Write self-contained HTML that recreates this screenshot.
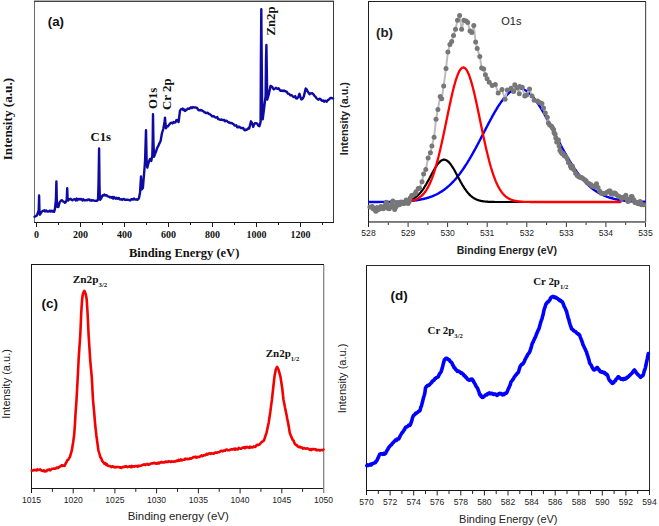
<!DOCTYPE html>
<html><head><meta charset="utf-8"><style>
html,body{margin:0;padding:0;background:#fff;}
svg{display:block;}
</style></head><body>
<svg width="659" height="526" viewBox="0 0 659 526">
<rect width="659" height="526" fill="#fff"/>
<rect x="34" y="0" width="300" height="1" fill="#b0b0b0"/>
<rect x="34" y="1" width="300" height="1" fill="#444"/>
<rect x="34" y="2" width="1" height="221" fill="#6a6a6a"/>
<rect x="333" y="1" width="1" height="222" fill="#3a3a3a"/>
<rect x="34" y="222" width="300" height="1" fill="#1a1a1a"/>
<rect x="36" y="223" width="1" height="4" fill="#1a1a1a"/>
<text x="36.5" y="237.6" font-family='"Liberation Serif", serif' font-size="10" font-weight="bold" text-anchor="middle" fill="#111">0</text>
<rect x="58" y="223" width="1" height="2" fill="#1a1a1a"/>
<rect x="80" y="223" width="1" height="4" fill="#1a1a1a"/>
<text x="80.5" y="237.6" font-family='"Liberation Serif", serif' font-size="10" font-weight="bold" text-anchor="middle" fill="#111">200</text>
<rect x="102" y="223" width="1" height="2" fill="#1a1a1a"/>
<rect x="124" y="223" width="1" height="4" fill="#1a1a1a"/>
<text x="124.5" y="237.6" font-family='"Liberation Serif", serif' font-size="10" font-weight="bold" text-anchor="middle" fill="#111">400</text>
<rect x="146" y="223" width="1" height="2" fill="#1a1a1a"/>
<rect x="168" y="223" width="1" height="4" fill="#1a1a1a"/>
<text x="168.5" y="237.6" font-family='"Liberation Serif", serif' font-size="10" font-weight="bold" text-anchor="middle" fill="#111">600</text>
<rect x="190" y="223" width="1" height="2" fill="#1a1a1a"/>
<rect x="212" y="223" width="1" height="4" fill="#1a1a1a"/>
<text x="212.5" y="237.6" font-family='"Liberation Serif", serif' font-size="10" font-weight="bold" text-anchor="middle" fill="#111">800</text>
<rect x="234" y="223" width="1" height="2" fill="#1a1a1a"/>
<rect x="256" y="223" width="1" height="4" fill="#1a1a1a"/>
<text x="256.5" y="237.6" font-family='"Liberation Serif", serif' font-size="10" font-weight="bold" text-anchor="middle" fill="#111">1000</text>
<rect x="278" y="223" width="1" height="2" fill="#1a1a1a"/>
<rect x="300" y="223" width="1" height="4" fill="#1a1a1a"/>
<text x="300.5" y="237.6" font-family='"Liberation Serif", serif' font-size="10" font-weight="bold" text-anchor="middle" fill="#111">1200</text>
<rect x="322" y="223" width="1" height="2" fill="#1a1a1a"/>
<text x="184.1" y="257.4" font-family='"Liberation Serif", serif' font-size="12.5" font-weight="bold" text-anchor="middle" fill="#111">Binding Energy (eV)</text>
<text x="12.4" y="119.1" font-family='"Liberation Serif", serif' font-size="13.2" font-weight="bold" text-anchor="middle" fill="#111" transform="rotate(-90 12.4 119.1)">Intensity (a.u.)</text>
<text x="47.8" y="25.8" font-family='"Liberation Sans", sans-serif' font-size="13.3" font-weight="bold" text-anchor="start" fill="#111">(a)</text>
<text x="100.8" y="140.9" font-family='"Liberation Serif", serif' font-size="12.8" font-weight="bold" text-anchor="middle" fill="#111">C1s</text>
<text x="156.6" y="98.3" font-family='"Liberation Serif", serif' font-size="12.8" font-weight="bold" text-anchor="middle" fill="#111" transform="rotate(-90 156.6 98.3)">O1s</text>
<text x="170.8" y="94.2" font-family='"Liberation Serif", serif' font-size="12.8" font-weight="bold" text-anchor="middle" fill="#111" transform="rotate(-90 170.8 94.2)">Cr 2p</text>
<text x="274.7" y="21" font-family='"Liberation Serif", serif' font-size="12.8" font-weight="bold" text-anchor="middle" fill="#111" transform="rotate(-90 274.7 21)">Zn2p</text>
<polyline points="34.5,216.8 36,216 37,215.2 37.8,213 38.7,210 39.1,195.5 39.5,213 40,214.7 41,213 41.7,211.8 42.5,211 43.4,210.9 44.3,210.3 45.2,211.4 46.2,210.4 47.1,211.5 48,211.5 48.9,211.3 49.7,210.7 50.6,211.6 51.5,210.7 52.4,211.6 53.2,210.9 54.1,211.8 54.9,209.2 55.9,200 56.4,181.4 56.8,200 57.1,206.6 58.4,207 59.6,202.4 60.9,200.6 62,200.2 63.1,201.5 63.9,201.6 64.8,202.8 65.6,202.4 66.7,200 67.2,188.2 67.6,198 68.2,200.6 69.1,199.2 69.9,199.4 70.7,198.8 71.5,199.7 72.4,200.3 73.2,199.6 74,199.4 74.9,199.2 75.7,200.4 76.6,198.6 77.4,200.2 78.3,199.1 79.1,198.9 80,199.6 80.8,198.9 81.7,199.4 82.5,200.5 83.3,199.3 84.2,200.2 85,200.1 85.8,200.4 86.7,199.9 87.5,200.3 88.3,199.4 89.2,199.5 90,200.4 90.8,199.9 91.6,200.8 92.4,200.4 93.2,200.2 94,200.6 95,200.9 96.1,200.7 97.1,200.9 98,199.7 98.5,185 99.1,148.4 99.5,185 99.8,197 100.2,199.7 101.1,198.6 101.9,196.5 102.8,195.2 103.7,195.5 104.5,194.6 105.5,195.5 106.4,195.1 107.4,196.1 108.2,196.5 109.1,196.6 110,197.5 110.8,197 111.6,197.7 112.4,197 113.2,198.6 114,197 114.8,197.8 115.6,198.7 116.4,197.7 117.2,198.6 118,198.8 118.8,197.9 119.7,199.3 120.5,199.5 121.3,199.2 122.2,199.9 123,199.2 123.9,198.9 124.9,199.8 125.8,199.7 126.7,199.8 127.7,199.6 128.6,199.8 129.4,200.3 130.3,200.4 131.2,199.3 132,199.2 132.9,199.6 133.9,198.5 134.8,199.4 135.6,199.6 136.4,199.3 137.3,199.8 138.1,199.2 138.9,198.4 140,192.7 141,176.5 141.6,189.5 142.9,187.9 144.5,168.5 145.1,160 146,130.3 146.6,160 147.3,167.6 148.3,163.6 149.2,160.8 150,158.9 151.3,160.9 152.3,155.6 152.7,140 153,114.3 153.4,140 154,156.9 155,154 156,151.6 157.3,147.6 158.3,145.9 159.3,143.6 160.6,141 162,133 163.3,129 164.5,122 165,117.6 165.5,124 166,128.3 167,126.3 168,126.3 169,124.9 170,123.6 170.8,122.9 171.7,122.7 172.5,123.4 173.6,122.1 174.6,122.6 175.5,122.3 176.3,120.1 177.2,120 178.6,122 180,110.6 180.9,109.4 181.7,109 182.6,108.6 183.4,110.1 184.2,109.4 185,111 186,110.1 187,109.4 188,108.5 189,108.9 189.9,108.3 190.9,107.3 191.9,108.1 193,107 194,107.5 195,107.5 196,107.5 197,107.9 198,109.5 199,110.4 200,110.3 200.9,110 201.7,110.4 202.6,110.9 203.4,111.3 204.3,112.2 205.2,112.5 206,113.1 206.9,112.8 207.7,112.6 208.6,113.8 209.4,114 210.3,114.6 211.2,115.2 212,116.4 212.9,116.3 213.8,116.3 214.7,117 215.5,117.5 216.4,117.6 217.3,117.1 218.1,119.1 219,119.2 219.9,119.7 220.8,119.9 221.6,119.4 222.5,120 223.4,120.2 224.2,119.9 225.1,121.3 225.9,120.6 226.8,120.9 227.6,121.6 228.5,122.5 229.4,122.3 230.2,123 231.1,122.9 232,123.2 232.9,123.9 233.7,124.3 234.6,125.5 235.5,125.6 236.3,125.3 237.2,127.3 238.1,127.2 239,126.6 239.8,127.1 240.7,128 241.6,128 242.4,128.2 243.3,128 244.1,129.7 245,130.3 245.8,129.5 246.7,129.8 247.5,129.3 248.4,128.1 249.2,128.5 250.3,124 251,121.3 252,123.1 253.2,126.8 254.1,124.2 255.1,123.1 255.9,123.2 256.8,123.4 257.6,124.3 258.5,125.9 259.4,126.2 260.6,121.9 260.9,60 261.3,9.3 261.7,60 262.2,112 262.7,119.4 264.5,105 265.6,95.9 266,60 266.4,45 266.8,70 267.2,99.6 268.7,94.7 270.5,86 271.3,86.2 272.2,86.7 273,88.5 273.9,89.4 274.9,88.6 275.8,87.8 276.7,88.5 277.6,88.9 278.5,88.2 279.4,89.5 280.2,90.7 281.1,90.8 282,90.4 283,91.1 284,90.5 285,91.2 285.9,91.5 286.8,91.7 287.7,93.5 288.6,93.7 289.5,94.2 290.4,95.4 291.2,95.1 292,95.4 292.9,96.6 294,97 295.2,96.1 296.1,98.3 297.1,98.5 298.3,96.9 299.5,93.8 300.4,97.3 301.4,99.5 302.2,99.2 303,98 303.8,96.6 305.7,88.5 306.6,89.4 307.6,91.4 308.6,92.8 309.5,94.2 310.4,93.5 311.4,93.3 312.2,93.1 313,93.8 313.9,95 314.7,96.1 315.6,96.8 316.6,98.5 317.6,99 318.5,99.7 319.4,98.8 320.4,99 321.4,100.3 322.3,100.9 323.3,100.4 324.1,101.7 325,100.8 325.8,100.9 326.6,101.8 327.8,100.1 329,99.5 329.9,98.4 330.9,97.9 331.8,98 333,98.5" fill="none" stroke="#0e0aa4" stroke-width="2.4" stroke-linejoin="round" stroke-linecap="round"/>
<rect x="368" y="1" width="278" height="1" fill="#222"/>
<rect x="368" y="2" width="1" height="225" fill="#1e1e1e"/>
<rect x="645" y="2" width="1" height="220" fill="#555"/>
<rect x="646" y="2" width="1" height="220" fill="#e0e0e0"/>
<rect x="369" y="221" width="277" height="1" fill="#777"/>
<rect x="369" y="222" width="277" height="1" fill="#888"/>
<text x="368.5" y="236" font-family='"Liberation Sans", sans-serif' font-size="8.6" font-weight="normal" text-anchor="middle" fill="#222">528</text>
<line x1="388.3" y1="222.5" x2="388.3" y2="225" stroke="#333" stroke-width="1"/>
<line x1="408.1" y1="222.5" x2="408.1" y2="227" stroke="#333" stroke-width="1"/>
<text x="408.1" y="236" font-family='"Liberation Sans", sans-serif' font-size="8.6" font-weight="normal" text-anchor="middle" fill="#222">529</text>
<line x1="427.9" y1="222.5" x2="427.9" y2="225" stroke="#333" stroke-width="1"/>
<line x1="447.6" y1="222.5" x2="447.6" y2="227" stroke="#333" stroke-width="1"/>
<text x="447.6" y="236" font-family='"Liberation Sans", sans-serif' font-size="8.6" font-weight="normal" text-anchor="middle" fill="#222">530</text>
<line x1="467.4" y1="222.5" x2="467.4" y2="225" stroke="#333" stroke-width="1"/>
<line x1="487.2" y1="222.5" x2="487.2" y2="227" stroke="#333" stroke-width="1"/>
<text x="487.2" y="236" font-family='"Liberation Sans", sans-serif' font-size="8.6" font-weight="normal" text-anchor="middle" fill="#222">531</text>
<line x1="507" y1="222.5" x2="507" y2="225" stroke="#333" stroke-width="1"/>
<line x1="526.8" y1="222.5" x2="526.8" y2="227" stroke="#333" stroke-width="1"/>
<text x="526.8" y="236" font-family='"Liberation Sans", sans-serif' font-size="8.6" font-weight="normal" text-anchor="middle" fill="#222">532</text>
<line x1="546.6" y1="222.5" x2="546.6" y2="225" stroke="#333" stroke-width="1"/>
<line x1="566.4" y1="222.5" x2="566.4" y2="227" stroke="#333" stroke-width="1"/>
<text x="566.4" y="236" font-family='"Liberation Sans", sans-serif' font-size="8.6" font-weight="normal" text-anchor="middle" fill="#222">533</text>
<line x1="586.1" y1="222.5" x2="586.1" y2="225" stroke="#333" stroke-width="1"/>
<line x1="605.9" y1="222.5" x2="605.9" y2="227" stroke="#333" stroke-width="1"/>
<text x="605.9" y="236" font-family='"Liberation Sans", sans-serif' font-size="8.6" font-weight="normal" text-anchor="middle" fill="#222">534</text>
<line x1="625.7" y1="222.5" x2="625.7" y2="225" stroke="#333" stroke-width="1"/>
<line x1="645.5" y1="222.5" x2="645.5" y2="227" stroke="#333" stroke-width="1"/>
<text x="645.5" y="236" font-family='"Liberation Sans", sans-serif' font-size="8.6" font-weight="normal" text-anchor="middle" fill="#222">535</text>
<text x="506.9" y="253.6" font-family='"Liberation Sans", sans-serif' font-size="10.5" font-weight="bold" text-anchor="middle" fill="#222">Binding Energy (eV)</text>
<text x="348" y="118.7" font-family='"Liberation Sans", sans-serif' font-size="10.8" font-weight="bold" text-anchor="middle" fill="#222" transform="rotate(-90 348 118.7)">Intensity (a.u.)</text>
<text x="376" y="36.5" font-family='"Liberation Sans", sans-serif' font-size="13.3" font-weight="bold" text-anchor="start" fill="#222">(b)</text>
<text x="501.3" y="25" font-family='"Liberation Sans", sans-serif' font-size="11" font-weight="normal" text-anchor="start" fill="#222">O1s</text>
<polyline points="369.2,202 369.7,202 370.2,202 370.7,202 371.2,202 371.7,202 372.2,202 372.7,202 373.2,202 373.7,202 374.2,202 374.7,202 375.2,202 375.7,202 376.2,202 376.7,202 377.2,202 377.7,202 378.2,202 378.7,202 379.2,202 379.7,201.9 380.2,201.9 380.7,201.9 381.2,201.9 381.7,201.9 382.2,201.9 382.7,201.9 383.2,201.9 383.7,201.9 384.2,201.9 384.7,201.9 385.2,201.9 385.7,201.9 386.2,201.9 386.7,201.9 387.2,201.9 387.7,201.9 388.2,201.9 388.7,201.9 389.2,201.9 389.7,201.9 390.2,201.8 390.7,201.8 391.2,201.8 391.7,201.8 392.2,201.8 392.7,201.8 393.2,201.8 393.7,201.8 394.2,201.8 394.7,201.8 395.2,201.7 395.7,201.7 396.2,201.7 396.7,201.7 397.2,201.7 397.7,201.7 398.2,201.7 398.7,201.6 399.2,201.6 399.7,201.6 400.2,201.6 400.7,201.6 401.2,201.5 401.7,201.5 402.2,201.5 402.7,201.5 403.2,201.4 403.7,201.4 404.2,201.4 404.7,201.4 405.2,201.3 405.7,201.3 406.2,201.3 406.7,201.2 407.2,201.2 407.7,201.2 408.2,201.1 408.7,201.1 409.2,201.1 409.7,201 410.2,201 410.7,200.9 411.2,200.9 411.7,200.8 412.2,200.8 412.7,200.7 413.2,200.7 413.7,200.6 414.2,200.5 414.7,200.5 415.2,200.4 415.7,200.4 416.2,200.3 416.7,200.2 417.2,200.1 417.7,200.1 418.2,200 418.7,199.9 419.2,199.8 419.7,199.7 420.2,199.6 420.7,199.5 421.2,199.4 421.7,199.3 422.2,199.2 422.7,199.1 423.2,199 423.7,198.9 424.2,198.8 424.7,198.7 425.2,198.5 425.7,198.4 426.2,198.3 426.7,198.1 427.2,198 427.7,197.8 428.2,197.7 428.7,197.5 429.2,197.4 429.7,197.2 430.2,197 430.7,196.9 431.2,196.7 431.7,196.5 432.2,196.3 432.7,196.1 433.2,195.9 433.7,195.7 434.2,195.5 434.7,195.2 435.2,195 435.7,194.8 436.2,194.5 436.7,194.3 437.2,194 437.7,193.8 438.2,193.5 438.7,193.2 439.2,192.9 439.7,192.6 440.2,192.3 440.7,192 441.2,191.7 441.7,191.4 442.2,191.1 442.7,190.7 443.2,190.4 443.7,190 444.2,189.7 444.7,189.3 445.2,188.9 445.7,188.5 446.2,188.1 446.7,187.7 447.2,187.3 447.7,186.9 448.2,186.5 448.7,186 449.2,185.6 449.7,185.1 450.2,184.6 450.7,184.2 451.2,183.7 451.7,183.2 452.2,182.7 452.7,182.2 453.2,181.6 453.7,181.1 454.2,180.5 454.7,180 455.2,179.4 455.7,178.8 456.2,178.3 456.7,177.7 457.2,177.1 457.7,176.4 458.2,175.8 458.7,175.2 459.2,174.5 459.7,173.9 460.2,173.2 460.7,172.5 461.2,171.8 461.7,171.1 462.2,170.4 462.7,169.7 463.2,169 463.7,168.3 464.2,167.5 464.7,166.8 465.2,166 465.7,165.2 466.2,164.4 466.7,163.7 467.2,162.9 467.7,162 468.2,161.2 468.7,160.4 469.2,159.6 469.7,158.7 470.2,157.9 470.7,157 471.2,156.2 471.7,155.3 472.2,154.4 472.7,153.5 473.2,152.6 473.7,151.7 474.2,150.8 474.7,149.9 475.2,149 475.7,148.1 476.2,147.1 476.7,146.2 477.2,145.3 477.7,144.3 478.2,143.4 478.7,142.4 479.2,141.5 479.7,140.5 480.2,139.5 480.7,138.6 481.2,137.6 481.7,136.6 482.2,135.7 482.7,134.7 483.2,133.7 483.7,132.8 484.2,131.8 484.7,130.8 485.2,129.9 485.7,128.9 486.2,127.9 486.7,127 487.2,126 487.7,125.1 488.2,124.1 488.7,123.1 489.2,122.2 489.7,121.3 490.2,120.3 490.7,119.4 491.2,118.5 491.7,117.6 492.2,116.6 492.7,115.7 493.2,114.8 493.7,114 494.2,113.1 494.7,112.2 495.2,111.3 495.7,110.5 496.2,109.7 496.7,108.8 497.2,108 497.7,107.2 498.2,106.4 498.7,105.6 499.2,104.8 499.7,104.1 500.2,103.4 500.7,102.6 501.2,101.9 501.7,101.2 502.2,100.5 502.7,99.9 503.2,99.2 503.7,98.6 504.2,97.9 504.7,97.3 505.2,96.8 505.7,96.2 506.2,95.6 506.7,95.1 507.2,94.6 507.7,94.1 508.2,93.6 508.7,93.2 509.2,92.7 509.7,92.3 510.2,91.9 510.7,91.6 511.2,91.2 511.7,90.9 512.2,90.6 512.7,90.3 513.2,90 513.7,89.8 514.2,89.5 514.7,89.3 515.2,89.1 515.7,89 516.2,88.9 516.7,88.7 517.2,88.6 517.7,88.6 518.2,88.5 518.7,88.5 519.2,88.5 519.7,88.5 520.2,88.6 520.7,88.6 521.2,88.7 521.7,88.8 522.2,89 522.7,89.1 523.2,89.3 523.7,89.5 524.2,89.7 524.7,90 525.2,90.2 525.7,90.5 526.2,90.8 526.7,91.1 527.2,91.5 527.7,91.9 528.2,92.2 528.7,92.7 529.2,93.1 529.7,93.5 530.2,94 530.7,94.5 531.2,95 531.7,95.5 532.2,96.1 532.7,96.6 533.2,97.2 533.7,97.8 534.2,98.4 534.7,99.1 535.2,99.7 535.7,100.4 536.2,101.1 536.7,101.8 537.2,102.5 537.7,103.2 538.2,103.9 538.7,104.7 539.2,105.5 539.7,106.2 540.2,107 540.7,107.8 541.2,108.7 541.7,109.5 542.2,110.3 542.7,111.2 543.2,112 543.7,112.9 544.2,113.8 544.7,114.7 545.2,115.6 545.7,116.5 546.2,117.4 546.7,118.3 547.2,119.2 547.7,120.1 548.2,121.1 548.7,122 549.2,123 549.7,123.9 550.2,124.9 550.7,125.8 551.2,126.8 551.7,127.7 552.2,128.7 552.7,129.7 553.2,130.6 553.7,131.6 554.2,132.6 554.7,133.5 555.2,134.5 555.7,135.5 556.2,136.5 556.7,137.4 557.2,138.4 557.7,139.3 558.2,140.3 558.7,141.3 559.2,142.2 559.7,143.2 560.2,144.1 560.7,145.1 561.2,146 561.7,146.9 562.2,147.9 562.7,148.8 563.2,149.7 563.7,150.6 564.2,151.5 564.7,152.4 565.2,153.3 565.7,154.2 566.2,155.1 566.7,156 567.2,156.8 567.7,157.7 568.2,158.6 568.7,159.4 569.2,160.2 569.7,161.1 570.2,161.9 570.7,162.7 571.2,163.5 571.7,164.3 572.2,165.1 572.7,165.8 573.2,166.6 573.7,167.4 574.2,168.1 574.7,168.9 575.2,169.6 575.7,170.3 576.2,171 576.7,171.7 577.2,172.4 577.7,173.1 578.2,173.7 578.7,174.4 579.2,175.1 579.7,175.7 580.2,176.3 580.7,176.9 581.2,177.5 581.7,178.1 582.2,178.7 582.7,179.3 583.2,179.9 583.7,180.4 584.2,181 584.7,181.5 585.2,182.1 585.7,182.6 586.2,183.1 586.7,183.6 587.2,184.1 587.7,184.6 588.2,185 588.7,185.5 589.2,185.9 589.7,186.4 590.2,186.8 590.7,187.2 591.2,187.7 591.7,188.1 592.2,188.5 592.7,188.8 593.2,189.2 593.7,189.6 594.2,190 594.7,190.3 595.2,190.7 595.7,191 596.2,191.3 596.7,191.7 597.2,192 597.7,192.3 598.2,192.6 598.7,192.9 599.2,193.2 599.7,193.4 600.2,193.7 600.7,194 601.2,194.2 601.7,194.5 602.2,194.7 602.7,195 603.2,195.2 603.7,195.4 604.2,195.6 604.7,195.8 605.2,196 605.7,196.2 606.2,196.4 606.7,196.6 607.2,196.8 607.7,197 608.2,197.2 608.7,197.3 609.2,197.5 609.7,197.7 610.2,197.8 610.7,198 611.2,198.1 611.7,198.2 612.2,198.4 612.7,198.5 613.2,198.6 613.7,198.8 614.2,198.9 614.7,199 615.2,199.1 615.7,199.2 616.2,199.3 616.7,199.4 617.2,199.5 617.7,199.6 618.2,199.7 618.7,199.8 619.2,199.9 619.7,200 620.2,200 620.7,200.1 621.2,200.2 621.7,200.3 622.2,200.3 622.7,200.4 623.2,200.5 623.7,200.5 624.2,200.6 624.7,200.7 625.2,200.7 625.7,200.8 626.2,200.8 626.7,200.9 627.2,200.9 627.7,201 628.2,201 628.7,201 629.2,201.1 629.7,201.1 630.2,201.2 630.7,201.2 631.2,201.2 631.7,201.3 632.2,201.3 632.7,201.3 633.2,201.4 633.7,201.4 634.2,201.4 634.7,201.4 635.2,201.5 635.7,201.5 636.2,201.5 636.7,201.5 637.2,201.6 637.7,201.6 638.2,201.6 638.7,201.6 639.2,201.6 639.7,201.6 640.2,201.7 640.7,201.7 641.2,201.7 641.7,201.7 642.2,201.7 642.7,201.7 643.2,201.8 643.7,201.8 644.2,201.8 644.7,201.8" fill="none" stroke="#0000ff" stroke-width="2.4" stroke-linejoin="round" stroke-linecap="round"/>
<polyline points="410,200.2 410.5,200 411,199.8 411.5,199.6 412,199.4 412.5,199.2 413,198.9 413.5,198.6 414,198.3 414.5,198 415,197.7 415.5,197.4 416,197 416.5,196.6 417,196.2 417.5,195.8 418,195.3 418.5,194.8 419,194.3 419.5,193.8 420,193.2 420.5,192.6 421,192 421.5,191.4 422,190.7 422.5,190 423,189.3 423.5,188.6 424,187.8 424.5,187 425,186.2 425.5,185.4 426,184.6 426.5,183.7 427,182.8 427.5,181.9 428,181 428.5,180.1 429,179.2 429.5,178.2 430,177.3 430.5,176.3 431,175.4 431.5,174.5 432,173.5 432.5,172.6 433,171.7 433.5,170.8 434,169.9 434.5,169 435,168.2 435.5,167.4 436,166.6 436.5,165.8 437,165.1 437.5,164.4 438,163.7 438.5,163.1 439,162.6 439.5,162.1 440,161.6 440.5,161.2 441,160.8 441.5,160.5 442,160.2 442.5,160 443,159.8 443.5,159.7 444,159.7 444.5,159.7 445,159.8 445.5,159.9 446,160.1 446.5,160.4 447,160.7 447.5,161 448,161.4 448.5,161.9 449,162.4 449.5,162.9 450,163.5 450.5,164.1 451,164.8 451.5,165.5 452,166.3 452.5,167 453,167.9 453.5,168.7 454,169.5 454.5,170.4 455,171.3 455.5,172.2 456,173.2 456.5,174.1 457,175 457.5,176 458,176.9 458.5,177.9 459,178.8 459.5,179.7 460,180.6 460.5,181.6 461,182.5 461.5,183.3 462,184.2 462.5,185.1 463,185.9 463.5,186.7 464,187.5 464.5,188.3 465,189 465.5,189.7 466,190.4 466.5,191.1 467,191.8 467.5,192.4 468,193 468.5,193.5 469,194.1 469.5,194.6 470,195.1 470.5,195.6 471,196 471.5,196.4 472,196.8 472.5,197.2 473,197.6 473.5,197.9 474,198.2 474.5,198.5 475,198.8 475.5,199.1 476,199.3 476.5,199.5 477,199.7 477.5,199.9 478,200.1 478.5,200.3 479,200.4 479.5,200.6 480,200.7 480.5,200.8 481,200.9 481.5,201 482,201.1 482.5,201.2 483,201.3 483.5,201.4 484,201.4 484.5,201.5 485,201.5 485.5,201.6 486,201.6 486.5,201.7 487,201.7 487.5,201.7 488,201.8 488.5,201.8 489,201.8 489.5,201.8 490,201.9 490.5,201.9 491,201.9 491.5,201.9 492,201.9 492.5,201.9 493,201.9 493.5,201.9 494,201.9 494.5,202 495,202 495.5,202 496,202 496.5,202 497,202 497.5,202 498,202 498.5,202 499,202 499.5,202 500,202 500.5,202 501,202 501.5,202 502,202 502.5,202 503,202 503.5,202 504,202 504.5,202 505,202 505.5,202 506,202 506.5,202 507,202 507.5,202 508,202 508.5,202 509,202 509.5,202 510,202 510.5,202 511,202 511.5,202 512,202 512.5,202 513,202 513.5,202 514,202 514.5,202 515,202 515.5,202 516,202 516.5,202 517,202 517.5,202 518,202 518.5,202 519,202 519.5,202 520,202 520.5,202 521,202 521.5,202 522,202 522.5,202 523,202 523.5,202 524,202 524.5,202 525,202 525.5,202 526,202 526.5,202 527,202 527.5,202 528,202 528.5,202 529,202 529.5,202 530,202 530.5,202 531,202 531.5,202 532,202 532.5,202 533,202 533.5,202 534,202 534.5,202 535,202 535.5,202 536,202 536.5,202 537,202 537.5,202 538,202 538.5,202 539,202 539.5,202 540,202 540.5,202 541,202 541.5,202 542,202 542.5,202 543,202 543.5,202 544,202 544.5,202 545,202 545.5,202 546,202 546.5,202 547,202 547.5,202 548,202 548.5,202 549,202 549.5,202 550,202 550.5,202 551,202 551.5,202 552,202 552.5,202 553,202 553.5,202 554,202 554.5,202 555,202 555.5,202 556,202 556.5,202 557,202 557.5,202 558,202 558.5,202 559,202 559.5,202 560,202 560.5,202 561,202 561.5,202 562,202 562.5,202 563,202 563.5,202 564,202 564.5,202 565,202 565.5,202 566,202 566.5,202 567,202 567.5,202 568,202 568.5,202 569,202 569.5,202 570,202 570.5,202 571,202 571.5,202 572,202 572.5,202 573,202 573.5,202 574,202 574.5,202 575,202 575.5,202 576,202 576.5,202 577,202 577.5,202 578,202 578.5,202 579,202 579.5,202 580,202 580.5,202 581,202 581.5,202 582,202 582.5,202 583,202 583.5,202 584,202 584.5,202 585,202 585.5,202 586,202 586.5,202 587,202 587.5,202 588,202 588.5,202 589,202 589.5,202 590,202 590.5,202 591,202 591.5,202 592,202 592.5,202 593,202 593.5,202 594,202 594.5,202 595,202 595.5,202 596,202 596.5,202 597,202 597.5,202 598,202 598.5,202 599,202 599.5,202 600,202 600.5,202 601,202 601.5,202 602,202 602.5,202 603,202 603.5,202 604,202 604.5,202 605,202 605.5,202 606,202 606.5,202 607,202 607.5,202 608,202 608.5,202 609,202 609.5,202 610,202 610.5,202 611,202 611.5,202 612,202 612.5,202 613,202 613.5,202 614,202 614.5,202 615,202 615.5,202 616,202 616.5,202 617,202 617.5,202 618,202 618.5,202 619,202 619.5,202 620,202" fill="none" stroke="#000" stroke-width="2.2" stroke-linejoin="round" stroke-linecap="round"/>
<polyline points="410,201.1 410.5,201 411,200.9 411.5,200.8 412,200.7 412.5,200.6 413,200.5 413.5,200.3 414,200.2 414.5,200 415,199.8 415.5,199.7 416,199.4 416.5,199.2 417,199 417.5,198.7 418,198.5 418.5,198.2 419,197.8 419.5,197.5 420,197.1 420.5,196.8 421,196.3 421.5,195.9 422,195.4 422.5,195 423,194.4 423.5,193.9 424,193.3 424.5,192.7 425,192 425.5,191.3 426,190.6 426.5,189.8 427,189 427.5,188.1 428,187.2 428.5,186.3 429,185.3 429.5,184.2 430,183.1 430.5,182 431,180.8 431.5,179.6 432,178.3 432.5,176.9 433,175.6 433.5,174.1 434,172.6 434.5,171.1 435,169.5 435.5,167.8 436,166.1 436.5,164.3 437,162.5 437.5,160.6 438,158.7 438.5,156.8 439,154.7 439.5,152.7 440,150.6 440.5,148.4 441,146.3 441.5,144 442,141.8 442.5,139.5 443,137.2 443.5,134.8 444,132.5 444.5,130.1 445,127.7 445.5,125.3 446,122.8 446.5,120.4 447,118 447.5,115.6 448,113.2 448.5,110.8 449,108.4 449.5,106 450,103.7 450.5,101.4 451,99.1 451.5,96.9 452,94.7 452.5,92.6 453,90.5 453.5,88.5 454,86.6 454.5,84.7 455,83 455.5,81.2 456,79.6 456.5,78.1 457,76.6 457.5,75.3 458,74 458.5,72.9 459,71.8 459.5,70.9 460,70.1 460.5,69.4 461,68.8 461.5,68.3 462,67.9 462.5,67.7 463,67.5 463.5,67.5 464,67.6 464.5,67.8 465,68.2 465.5,68.6 466,69.2 466.5,69.9 467,70.7 467.5,71.6 468,72.7 468.5,73.8 469,75 469.5,76.4 470,77.8 470.5,79.3 471,80.9 471.5,82.6 472,84.4 472.5,86.2 473,88.2 473.5,90.1 474,92.2 474.5,94.3 475,96.5 475.5,98.7 476,100.9 476.5,103.2 477,105.5 477.5,107.9 478,110.3 478.5,112.7 479,115.1 479.5,117.5 480,119.9 480.5,122.4 481,124.8 481.5,127.2 482,129.6 482.5,132 483,134.4 483.5,136.7 484,139 484.5,141.3 485,143.6 485.5,145.8 486,148 486.5,150.2 487,152.3 487.5,154.3 488,156.4 488.5,158.3 489,160.3 489.5,162.1 490,164 490.5,165.7 491,167.5 491.5,169.1 492,170.7 492.5,172.3 493,173.8 493.5,175.3 494,176.7 494.5,178 495,179.3 495.5,180.6 496,181.8 496.5,182.9 497,184 497.5,185.1 498,186.1 498.5,187 499,187.9 499.5,188.8 500,189.6 500.5,190.4 501,191.2 501.5,191.9 502,192.5 502.5,193.2 503,193.8 503.5,194.3 504,194.9 504.5,195.4 505,195.8 505.5,196.3 506,196.7 506.5,197.1 507,197.4 507.5,197.8 508,198.1 508.5,198.4 509,198.7 509.5,198.9 510,199.2 510.5,199.4 511,199.6 511.5,199.8 512,200 512.5,200.2 513,200.3 513.5,200.5 514,200.6 514.5,200.7 515,200.8 515.5,200.9 516,201 516.5,201.1 517,201.2 517.5,201.3 518,201.3 518.5,201.4 519,201.4 519.5,201.5 520,201.5 520.5,201.6 521,201.6 521.5,201.7 522,201.7 522.5,201.7 523,201.8 523.5,201.8 524,201.8 524.5,201.8 525,201.8 525.5,201.9 526,201.9 526.5,201.9 527,201.9 527.5,201.9 528,201.9 528.5,201.9 529,201.9 529.5,201.9 530,201.9 530.5,202 531,202 531.5,202 532,202 532.5,202 533,202 533.5,202 534,202 534.5,202 535,202 535.5,202 536,202 536.5,202 537,202 537.5,202 538,202 538.5,202 539,202 539.5,202 540,202 540.5,202 541,202 541.5,202 542,202 542.5,202 543,202 543.5,202 544,202 544.5,202 545,202 545.5,202 546,202 546.5,202 547,202 547.5,202 548,202 548.5,202 549,202 549.5,202 550,202 550.5,202 551,202 551.5,202 552,202 552.5,202 553,202 553.5,202 554,202 554.5,202 555,202 555.5,202 556,202 556.5,202 557,202 557.5,202 558,202 558.5,202 559,202 559.5,202 560,202 560.5,202 561,202 561.5,202 562,202 562.5,202 563,202 563.5,202 564,202 564.5,202 565,202 565.5,202 566,202 566.5,202 567,202 567.5,202 568,202 568.5,202 569,202 569.5,202 570,202 570.5,202 571,202 571.5,202 572,202 572.5,202 573,202 573.5,202 574,202 574.5,202 575,202 575.5,202 576,202 576.5,202 577,202 577.5,202 578,202 578.5,202 579,202 579.5,202 580,202 580.5,202 581,202 581.5,202 582,202 582.5,202 583,202 583.5,202 584,202 584.5,202 585,202 585.5,202 586,202 586.5,202 587,202 587.5,202 588,202 588.5,202 589,202 589.5,202 590,202 590.5,202 591,202 591.5,202 592,202 592.5,202 593,202 593.5,202 594,202 594.5,202 595,202 595.5,202 596,202 596.5,202 597,202 597.5,202 598,202 598.5,202 599,202 599.5,202 600,202 600.5,202 601,202 601.5,202 602,202 602.5,202 603,202 603.5,202 604,202 604.5,202 605,202 605.5,202 606,202 606.5,202 607,202 607.5,202 608,202 608.5,202 609,202 609.5,202 610,202 610.5,202 611,202 611.5,202 612,202 612.5,202 613,202 613.5,202 614,202 614.5,202 615,202 615.5,202 616,202 616.5,202 617,202 617.5,202 618,202 618.5,202 619,202 619.5,202 620,202 620.5,202" fill="none" stroke="#ff0000" stroke-width="2.3" stroke-linejoin="round" stroke-linecap="round"/>
<polyline points="369.9,207 372.3,206.4 373.5,208.5 375.9,211.3 377.1,207.6 378.5,209.5 380.8,206.4 383.2,208.8 384.4,206.4 386.2,202.2 387.5,206 389.3,208.8 391.7,206.4 392.9,201 394.7,209.4 397.2,202.8 398.5,205 400.2,204 402.3,202.2 404,203.5 406.1,199.9 408.1,203.4 409.1,201.4 411.7,195.5 412.9,195.3 415.2,193.8 416,191.8 418.2,188.5 419.6,188.2 422,181.7 423.6,174.1 425.8,169.5 428.1,158.1 430.4,152.8 431.9,146 434.1,137.3 436,119.3 437.9,109.4 440.2,96.5 441.7,98.8 443.7,85.9 446,68.4 447.9,52.1 449.9,44.5 451.7,41.5 453.5,35.4 455.5,29.3 457.5,20.2 459.6,15.6 461.6,29.3 463.9,20.2 466.2,21 467.7,22.5 470,30.9 471.8,32.4 473.8,25.5 475.6,42 477.2,48.5 479.8,56.5 481.6,68 483.7,69 485.4,74.8 487.1,78.8 489.2,82.2 492.2,85.6 495.3,84.4 498.2,93 502,89.5 505.1,99.3 507.3,89.9 511.1,88.2 513.6,91.6 514.8,84.8 517,88 519.3,93.7 519.6,86.5 522.2,87.3 524.8,95.9 526.5,95 529.5,89 532,96 534.2,100.2 537.6,101 539.5,102.5 541.9,103.6 543.5,108 545.3,113 547.3,117.3 548.4,123.1 551.5,126.3 553.6,129.4 555.1,134.2 556.7,142 558.4,139.9 559.9,150.3 562,153.5 564.1,155.6 567.2,158.7 570.3,165 571.4,168.1 572.4,166 575.6,173.3 578.7,176.5 580.8,177.5 582.9,178.6 586,180.7 589.2,183.8 592.3,185.9 595.4,186.9 596.5,183.8 599.6,191.1 602.8,193.2 606.9,192.2 610.1,191.1 612.2,194.3 615.3,193.2 618.5,196.4 621.6,198.5 625.8,195.3 627.9,201.6 630,199 632,196.4 634.1,200.5 636.2,202.6 638.3,203.7 640,201.5 641.5,204.7 643.6,204.7" fill="none" stroke="#bcbcbc" stroke-width="2.0" stroke-linejoin="round" stroke-linecap="round"/>
<circle cx="369.9" cy="207" r="2.5" fill="#777"/>
<circle cx="372.3" cy="206.4" r="2.5" fill="#777"/>
<circle cx="373.5" cy="208.5" r="2.5" fill="#777"/>
<circle cx="375.9" cy="211.3" r="2.5" fill="#777"/>
<circle cx="377.1" cy="207.6" r="2.5" fill="#777"/>
<circle cx="378.5" cy="209.5" r="2.5" fill="#777"/>
<circle cx="380.8" cy="206.4" r="2.5" fill="#777"/>
<circle cx="383.2" cy="208.8" r="2.5" fill="#777"/>
<circle cx="384.4" cy="206.4" r="2.5" fill="#777"/>
<circle cx="386.2" cy="202.2" r="2.5" fill="#777"/>
<circle cx="387.5" cy="206" r="2.5" fill="#777"/>
<circle cx="389.3" cy="208.8" r="2.5" fill="#777"/>
<circle cx="391.7" cy="206.4" r="2.5" fill="#777"/>
<circle cx="392.9" cy="201" r="2.5" fill="#777"/>
<circle cx="394.7" cy="209.4" r="2.5" fill="#777"/>
<circle cx="397.2" cy="202.8" r="2.5" fill="#777"/>
<circle cx="398.5" cy="205" r="2.5" fill="#777"/>
<circle cx="400.2" cy="204" r="2.5" fill="#777"/>
<circle cx="402.3" cy="202.2" r="2.5" fill="#777"/>
<circle cx="404" cy="203.5" r="2.5" fill="#777"/>
<circle cx="406.1" cy="199.9" r="2.5" fill="#777"/>
<circle cx="408.1" cy="203.4" r="2.5" fill="#777"/>
<circle cx="409.1" cy="201.4" r="2.5" fill="#777"/>
<circle cx="411.7" cy="195.5" r="2.5" fill="#777"/>
<circle cx="412.9" cy="195.3" r="2.5" fill="#777"/>
<circle cx="415.2" cy="193.8" r="2.5" fill="#777"/>
<circle cx="416" cy="191.8" r="2.5" fill="#777"/>
<circle cx="418.2" cy="188.5" r="2.5" fill="#777"/>
<circle cx="419.6" cy="188.2" r="2.5" fill="#777"/>
<circle cx="422" cy="181.7" r="2.5" fill="#777"/>
<circle cx="423.6" cy="174.1" r="2.5" fill="#777"/>
<circle cx="425.8" cy="169.5" r="2.5" fill="#777"/>
<circle cx="428.1" cy="158.1" r="2.5" fill="#777"/>
<circle cx="430.4" cy="152.8" r="2.5" fill="#777"/>
<circle cx="431.9" cy="146" r="2.5" fill="#777"/>
<circle cx="434.1" cy="137.3" r="2.5" fill="#777"/>
<circle cx="436" cy="119.3" r="2.5" fill="#777"/>
<circle cx="437.9" cy="109.4" r="2.5" fill="#777"/>
<circle cx="440.2" cy="96.5" r="2.5" fill="#777"/>
<circle cx="441.7" cy="98.8" r="2.5" fill="#777"/>
<circle cx="443.7" cy="85.9" r="2.5" fill="#777"/>
<circle cx="446" cy="68.4" r="2.5" fill="#777"/>
<circle cx="447.9" cy="52.1" r="2.5" fill="#777"/>
<circle cx="449.9" cy="44.5" r="2.5" fill="#777"/>
<circle cx="451.7" cy="41.5" r="2.5" fill="#777"/>
<circle cx="453.5" cy="35.4" r="2.5" fill="#777"/>
<circle cx="455.5" cy="29.3" r="2.5" fill="#777"/>
<circle cx="457.5" cy="20.2" r="2.5" fill="#777"/>
<circle cx="459.6" cy="15.6" r="2.5" fill="#777"/>
<circle cx="461.6" cy="29.3" r="2.5" fill="#777"/>
<circle cx="463.9" cy="20.2" r="2.5" fill="#777"/>
<circle cx="466.2" cy="21" r="2.5" fill="#777"/>
<circle cx="467.7" cy="22.5" r="2.5" fill="#777"/>
<circle cx="470" cy="30.9" r="2.5" fill="#777"/>
<circle cx="471.8" cy="32.4" r="2.5" fill="#777"/>
<circle cx="473.8" cy="25.5" r="2.5" fill="#777"/>
<circle cx="475.6" cy="42" r="2.5" fill="#777"/>
<circle cx="477.2" cy="48.5" r="2.5" fill="#777"/>
<circle cx="479.8" cy="56.5" r="2.5" fill="#777"/>
<circle cx="481.6" cy="68" r="2.5" fill="#777"/>
<circle cx="483.7" cy="69" r="2.5" fill="#777"/>
<circle cx="485.4" cy="74.8" r="2.5" fill="#777"/>
<circle cx="487.1" cy="78.8" r="2.5" fill="#777"/>
<circle cx="489.2" cy="82.2" r="2.5" fill="#777"/>
<circle cx="492.2" cy="85.6" r="2.5" fill="#777"/>
<circle cx="495.3" cy="84.4" r="2.5" fill="#777"/>
<circle cx="498.2" cy="93" r="2.5" fill="#777"/>
<circle cx="502" cy="89.5" r="2.5" fill="#777"/>
<circle cx="505.1" cy="99.3" r="2.5" fill="#777"/>
<circle cx="507.3" cy="89.9" r="2.5" fill="#777"/>
<circle cx="511.1" cy="88.2" r="2.5" fill="#777"/>
<circle cx="513.6" cy="91.6" r="2.5" fill="#777"/>
<circle cx="514.8" cy="84.8" r="2.5" fill="#777"/>
<circle cx="517" cy="88" r="2.5" fill="#777"/>
<circle cx="519.3" cy="93.7" r="2.5" fill="#777"/>
<circle cx="519.6" cy="86.5" r="2.5" fill="#777"/>
<circle cx="522.2" cy="87.3" r="2.5" fill="#777"/>
<circle cx="524.8" cy="95.9" r="2.5" fill="#777"/>
<circle cx="526.5" cy="95" r="2.5" fill="#777"/>
<circle cx="529.5" cy="89" r="2.5" fill="#777"/>
<circle cx="532" cy="96" r="2.5" fill="#777"/>
<circle cx="534.2" cy="100.2" r="2.5" fill="#777"/>
<circle cx="537.6" cy="101" r="2.5" fill="#777"/>
<circle cx="539.5" cy="102.5" r="2.5" fill="#777"/>
<circle cx="541.9" cy="103.6" r="2.5" fill="#777"/>
<circle cx="543.5" cy="108" r="2.5" fill="#777"/>
<circle cx="545.3" cy="113" r="2.5" fill="#777"/>
<circle cx="547.3" cy="117.3" r="2.5" fill="#777"/>
<circle cx="548.4" cy="123.1" r="2.5" fill="#777"/>
<circle cx="551.5" cy="126.3" r="2.5" fill="#777"/>
<circle cx="553.6" cy="129.4" r="2.5" fill="#777"/>
<circle cx="555.1" cy="134.2" r="2.5" fill="#777"/>
<circle cx="556.7" cy="142" r="2.5" fill="#777"/>
<circle cx="558.4" cy="139.9" r="2.5" fill="#777"/>
<circle cx="559.9" cy="150.3" r="2.5" fill="#777"/>
<circle cx="562" cy="153.5" r="2.5" fill="#777"/>
<circle cx="564.1" cy="155.6" r="2.5" fill="#777"/>
<circle cx="567.2" cy="158.7" r="2.5" fill="#777"/>
<circle cx="570.3" cy="165" r="2.5" fill="#777"/>
<circle cx="571.4" cy="168.1" r="2.5" fill="#777"/>
<circle cx="572.4" cy="166" r="2.5" fill="#777"/>
<circle cx="575.6" cy="173.3" r="2.5" fill="#777"/>
<circle cx="578.7" cy="176.5" r="2.5" fill="#777"/>
<circle cx="580.8" cy="177.5" r="2.5" fill="#777"/>
<circle cx="582.9" cy="178.6" r="2.5" fill="#777"/>
<circle cx="586" cy="180.7" r="2.5" fill="#777"/>
<circle cx="589.2" cy="183.8" r="2.5" fill="#777"/>
<circle cx="592.3" cy="185.9" r="2.5" fill="#777"/>
<circle cx="595.4" cy="186.9" r="2.5" fill="#777"/>
<circle cx="596.5" cy="183.8" r="2.5" fill="#777"/>
<circle cx="599.6" cy="191.1" r="2.5" fill="#777"/>
<circle cx="602.8" cy="193.2" r="2.5" fill="#777"/>
<circle cx="606.9" cy="192.2" r="2.5" fill="#777"/>
<circle cx="610.1" cy="191.1" r="2.5" fill="#777"/>
<circle cx="612.2" cy="194.3" r="2.5" fill="#777"/>
<circle cx="615.3" cy="193.2" r="2.5" fill="#777"/>
<circle cx="618.5" cy="196.4" r="2.5" fill="#777"/>
<circle cx="621.6" cy="198.5" r="2.5" fill="#777"/>
<circle cx="625.8" cy="195.3" r="2.5" fill="#777"/>
<circle cx="627.9" cy="201.6" r="2.5" fill="#777"/>
<circle cx="630" cy="199" r="2.5" fill="#777"/>
<circle cx="632" cy="196.4" r="2.5" fill="#777"/>
<circle cx="634.1" cy="200.5" r="2.5" fill="#777"/>
<circle cx="636.2" cy="202.6" r="2.5" fill="#777"/>
<circle cx="638.3" cy="203.7" r="2.5" fill="#777"/>
<circle cx="640" cy="201.5" r="2.5" fill="#777"/>
<circle cx="641.5" cy="204.7" r="2.5" fill="#777"/>
<circle cx="643.6" cy="204.7" r="2.5" fill="#777"/>
<circle cx="373" cy="208.4" r="2.5" fill="#777"/>
<circle cx="375" cy="209.9" r="2.5" fill="#777"/>
<circle cx="376.6" cy="210.2" r="2.5" fill="#777"/>
<circle cx="377.5" cy="208.9" r="2.5" fill="#777"/>
<circle cx="380" cy="208.6" r="2.5" fill="#777"/>
<circle cx="382.2" cy="207.5" r="2.5" fill="#777"/>
<circle cx="383.5" cy="208.3" r="2.5" fill="#777"/>
<circle cx="385.2" cy="205" r="2.5" fill="#777"/>
<circle cx="387.2" cy="203.9" r="2.5" fill="#777"/>
<circle cx="388.3" cy="208.5" r="2.5" fill="#777"/>
<circle cx="390.7" cy="206.8" r="2.5" fill="#777"/>
<circle cx="392" cy="202.9" r="2.5" fill="#777"/>
<circle cx="394.1" cy="205.9" r="2.5" fill="#777"/>
<circle cx="395.7" cy="206.9" r="2.5" fill="#777"/>
<circle cx="398.2" cy="204.3" r="2.5" fill="#777"/>
<circle cx="399.2" cy="204.6" r="2.5" fill="#777"/>
<circle cx="401" cy="201.9" r="2.5" fill="#777"/>
<circle cx="403.5" cy="203.2" r="2.5" fill="#777"/>
<circle cx="405.1" cy="202.7" r="2.5" fill="#777"/>
<circle cx="407" cy="202.5" r="2.5" fill="#777"/>
<circle cx="408.9" cy="201.7" r="2.5" fill="#777"/>
<circle cx="410.2" cy="198" r="2.5" fill="#777"/>
<circle cx="549.7" cy="124.9" r="2.5" fill="#777"/>
<circle cx="552.4" cy="127.7" r="2.5" fill="#777"/>
<circle cx="554.1" cy="132.8" r="2.5" fill="#777"/>
<circle cx="555.8" cy="138" r="2.5" fill="#777"/>
<circle cx="557.6" cy="141.9" r="2.5" fill="#777"/>
<circle cx="559.1" cy="146.1" r="2.5" fill="#777"/>
<circle cx="561" cy="152" r="2.5" fill="#777"/>
<circle cx="563.1" cy="153.4" r="2.5" fill="#777"/>
<circle cx="565.6" cy="156.4" r="2.5" fill="#777"/>
<circle cx="568.4" cy="162.6" r="2.5" fill="#777"/>
<circle cx="570.6" cy="166.5" r="2.5" fill="#777"/>
<circle cx="572.1" cy="167.2" r="2.5" fill="#777"/>
<circle cx="573.9" cy="169.7" r="2.5" fill="#777"/>
<circle cx="577.2" cy="175.6" r="2.5" fill="#777"/>
<circle cx="579.4" cy="177.1" r="2.5" fill="#777"/>
<circle cx="581.6" cy="177.5" r="2.5" fill="#777"/>
<circle cx="584.7" cy="179.7" r="2.5" fill="#777"/>
<circle cx="587.6" cy="182.9" r="2.5" fill="#777"/>
<circle cx="591.1" cy="184.7" r="2.5" fill="#777"/>
<circle cx="593.9" cy="186.4" r="2.5" fill="#777"/>
<circle cx="596" cy="185.8" r="2.5" fill="#777"/>
<circle cx="598" cy="187.5" r="2.5" fill="#777"/>
<circle cx="601.2" cy="193.2" r="2.5" fill="#777"/>
<circle cx="605" cy="193.6" r="2.5" fill="#777"/>
<circle cx="608.9" cy="191.1" r="2.5" fill="#777"/>
<circle cx="611.2" cy="193.8" r="2.5" fill="#777"/>
<circle cx="614" cy="192.9" r="2.5" fill="#777"/>
<circle cx="616.6" cy="194.7" r="2.5" fill="#777"/>
<circle cx="619.7" cy="196.8" r="2.5" fill="#777"/>
<circle cx="623.4" cy="197.3" r="2.5" fill="#777"/>
<circle cx="627.1" cy="199.4" r="2.5" fill="#777"/>
<circle cx="628.7" cy="200.8" r="2.5" fill="#777"/>
<circle cx="631.1" cy="196.8" r="2.5" fill="#777"/>
<circle cx="633.4" cy="199.6" r="2.5" fill="#777"/>
<circle cx="634.9" cy="202.6" r="2.5" fill="#777"/>
<circle cx="637.2" cy="203.1" r="2.5" fill="#777"/>
<circle cx="639.5" cy="203.4" r="2.5" fill="#777"/>
<circle cx="640.5" cy="202.9" r="2.5" fill="#777"/>
<rect x="31" y="264" width="293" height="1" fill="#151515"/>
<rect x="31" y="265" width="1" height="228" fill="#151515"/>
<rect x="323" y="265" width="1" height="228" fill="#8a8a8a"/>
<rect x="324" y="265" width="1" height="228" fill="#d5d5d5"/>
<rect x="32" y="488" width="291" height="1" fill="#1a1a1a"/>
<text x="31.5" y="502.8" font-family='"Liberation Sans", sans-serif' font-size="8.6" font-weight="normal" text-anchor="middle" fill="#222">1015</text>
<line x1="52.4" y1="489" x2="52.4" y2="491.8" stroke="#222" stroke-width="1"/>
<line x1="73.2" y1="489" x2="73.2" y2="493.4" stroke="#222" stroke-width="1"/>
<text x="73.2" y="502.8" font-family='"Liberation Sans", sans-serif' font-size="8.6" font-weight="normal" text-anchor="middle" fill="#222">1020</text>
<line x1="94.1" y1="489" x2="94.1" y2="491.8" stroke="#222" stroke-width="1"/>
<line x1="114.9" y1="489" x2="114.9" y2="493.4" stroke="#222" stroke-width="1"/>
<text x="114.9" y="502.8" font-family='"Liberation Sans", sans-serif' font-size="8.6" font-weight="normal" text-anchor="middle" fill="#222">1025</text>
<line x1="135.8" y1="489" x2="135.8" y2="491.8" stroke="#222" stroke-width="1"/>
<line x1="156.6" y1="489" x2="156.6" y2="493.4" stroke="#222" stroke-width="1"/>
<text x="156.6" y="502.8" font-family='"Liberation Sans", sans-serif' font-size="8.6" font-weight="normal" text-anchor="middle" fill="#222">1030</text>
<line x1="177.5" y1="489" x2="177.5" y2="491.8" stroke="#222" stroke-width="1"/>
<line x1="198.4" y1="489" x2="198.4" y2="493.4" stroke="#222" stroke-width="1"/>
<text x="198.4" y="502.8" font-family='"Liberation Sans", sans-serif' font-size="8.6" font-weight="normal" text-anchor="middle" fill="#222">1035</text>
<line x1="219.2" y1="489" x2="219.2" y2="491.8" stroke="#222" stroke-width="1"/>
<line x1="240.1" y1="489" x2="240.1" y2="493.4" stroke="#222" stroke-width="1"/>
<text x="240.1" y="502.8" font-family='"Liberation Sans", sans-serif' font-size="8.6" font-weight="normal" text-anchor="middle" fill="#222">1040</text>
<line x1="260.9" y1="489" x2="260.9" y2="491.8" stroke="#222" stroke-width="1"/>
<line x1="281.8" y1="489" x2="281.8" y2="493.4" stroke="#222" stroke-width="1"/>
<text x="281.8" y="502.8" font-family='"Liberation Sans", sans-serif' font-size="8.6" font-weight="normal" text-anchor="middle" fill="#222">1045</text>
<line x1="302.6" y1="489" x2="302.6" y2="491.8" stroke="#222" stroke-width="1"/>
<text x="323.5" y="502.8" font-family='"Liberation Sans", sans-serif' font-size="8.6" font-weight="normal" text-anchor="middle" fill="#222">1050</text>
<text x="178.2" y="520" font-family='"Liberation Sans", sans-serif' font-size="11.45" font-weight="normal" text-anchor="middle" fill="#222">Binding energy (eV)</text>
<text x="10.4" y="384" font-family='"Liberation Sans", sans-serif' font-size="11" font-weight="normal" text-anchor="middle" fill="#222" transform="rotate(-90 10.4 384)">Intensity (a.u.)</text>
<text x="41.6" y="308" font-family='"Liberation Sans", sans-serif' font-size="13.5" font-weight="bold" text-anchor="start" fill="#111">(c)</text>
<text x="72.8" y="283.2" font-family='"Liberation Serif", serif' font-size="11.3" font-weight="bold" text-anchor="start" fill="#111">Zn2p<tspan font-size="6.8" dy="4">3/2</tspan></text>
<text x="265.7" y="357.4" font-family='"Liberation Serif", serif' font-size="11.0" font-weight="bold" text-anchor="start" fill="#111">Zn2p<tspan font-size="6.6" dy="4">1/2</tspan></text>
<polyline points="31.8,470.6 32.6,470.5 33.4,470.2 34.2,469.9 35,470.3 35.7,470 36.5,470.4 37.2,469.4 37.9,470 38.7,469.8 39.4,469.8 40.2,469.4 40.9,470 41.7,470.7 42.4,470.8 43.2,471 44,470.3 44.7,471.5 45.5,471.1 46.2,471.3 47,470.5 47.8,469.8 48.5,469.9 49.3,469.4 50,470.3 50.8,469.8 51.6,469.2 52.4,468.7 53.2,468.8 54,468.6 54.9,468.8 55.9,468.3 56.8,467.5 58,468.1 58.9,467.2 59.7,466.5 60.6,466.4 61.8,465.2 62.5,465.9 63.2,465.5 64,465.9 64.7,465.7 65.7,463.2 66.6,461.9 67.4,460.1 68.2,459.8 69.1,458.2 69.9,457.1 70.8,453.8 71.8,450.5 72.5,446.2 73.2,441.9 74.2,434.3 74.9,425 75.5,414 76.5,400 77.6,380 78.6,360 79.4,347.5 80.3,335 81.2,313.5 82.1,299.3 83,293.5 84.3,290.8 85.6,293.5 86.7,299.3 87.6,313.5 88.6,335 89.4,347.5 90.2,360 91,368.8 91.8,377.5 93,400 94.3,414 95.2,425 96.4,435.7 97.4,443 98.4,450.3 99.5,454 100.5,457.6 101.3,458.3 102.1,460.8 102.9,461.7 103.7,462.8 104.4,463.7 105.2,463.1 105.9,464.7 106.7,464 107.4,465.6 108.2,465.5 108.9,466 109.7,466 110.5,466.4 111.3,467.2 112.1,466.4 112.8,466.4 113.6,467.2 114.4,466.9 115.2,467.5 116,467 116.8,467.1 117.6,466.9 118.4,467.1 119.2,467.3 120,467.6 120.7,467.3 121.5,467.8 122.2,467.1 122.9,467.3 123.6,466.8 124.4,466.9 125.1,466.4 125.8,466.7 126.5,466.3 127.3,467.2 128,466.8 128.7,466.8 129.4,466.2 130.2,466.6 130.9,467.1 131.6,465.9 132.3,466.9 133.1,466.3 133.8,466.3 134.5,466.7 135.2,466 136,466.1 136.7,466.3 137.4,466.6 138.1,465.7 138.9,466.3 139.6,466.1 140.3,465.7 141,465.8 141.7,465.3 142.5,465.1 143.2,464.6 143.9,464.6 144.6,464.4 145.4,465.2 146.1,464.4 146.8,464.1 147.5,463.9 148.3,464.8 149,464.7 149.7,464.3 150.4,463.7 151.2,463.5 151.9,463.4 152.6,463.5 153.3,463 154.1,463.3 154.8,462.9 155.5,463.1 156.2,463.7 156.9,463.6 157.7,463 158.4,462.5 159.1,463.5 159.8,462.5 160.6,462.5 161.3,461.9 162,462.4 162.7,462.5 163.5,462.5 164.2,462 164.9,462.4 165.6,461.6 166.4,461.9 167.1,461.6 167.8,462 168.5,461.4 169.3,461.3 170,461.7 170.7,461.9 171.4,461.4 172.1,461.8 172.9,461.5 173.6,461.7 174.3,461.5 175,461.4 175.8,461.5 176.5,460.7 177.2,460.5 177.9,461.2 178.7,459.9 179.4,460.6 180.1,460.4 180.8,459.4 181.6,460.4 182.3,460.3 183,459.8 183.7,459.8 184.5,459.8 185.2,458.7 185.9,459.1 186.6,459 187.3,458.8 188,459.2 188.7,459 189.4,458.9 190.1,458.4 190.8,458.7 191.5,458.3 192.2,458.2 192.9,457.4 193.7,457 194.4,457 195.1,457.2 195.8,456.7 196.5,457.6 197.2,457.1 197.9,457.1 198.6,456.9 199.3,456.9 200,456.5 200.8,456.2 201.5,455.3 202.3,456.2 203.1,455.9 203.8,455.3 204.6,455.1 205.3,455.1 206.1,454.6 206.8,453.8 207.6,454.6 208.3,453.8 209.1,453.4 209.8,453.5 210.6,454 211.3,453.1 212.1,453.4 212.9,453.6 213.6,453.8 214.4,452.9 215.1,452.6 215.9,452.6 216.7,452.8 217.4,452.7 218.2,452.2 219,452.2 219.7,452 220.5,451 221.2,450.9 222,450.9 222.8,451.3 223.5,450.5 224.3,450.6 225.1,450.6 225.8,449.7 226.6,449.6 227.3,449.8 228.1,450.3 228.8,450.2 229.6,450.1 230.3,449.7 231.1,449.3 231.8,449.5 232.6,449.4 233.4,449.3 234.1,448.7 234.9,449.7 235.6,448.6 236.4,448.9 237.2,449.4 237.9,449.3 238.7,447.8 239.4,448.3 240.2,448.7 241,448.8 241.7,448 242.5,447.9 243.2,447.5 244,447.3 244.8,448.3 245.5,447.2 246.2,447.6 247,446.9 247.8,447.4 248.5,447.3 249.3,447.9 250,446.6 250.8,447.5 251.6,447 252.3,447.5 253.1,447.1 253.8,446.4 254.6,446.7 255.3,446.9 256,446.1 256.7,445.1 257.5,444.7 258.2,445.1 258.9,444.7 259.6,444.5 260.4,443.5 261.1,442.5 261.9,442 262.6,441.2 263.4,441.2 264.1,440 264.9,437.7 265.6,435.4 266.4,433.1 267.2,429.7 267.9,426.2 268.7,422.8 269.5,417.1 270.4,411.4 271.1,405.7 271.9,400 273.2,388 274.5,376.4 275.8,369.5 277.1,366.8 278.5,369.5 279.4,372.9 280.4,376.4 281.3,382.2 282.2,388 283.5,400 284.3,403.8 285,407.6 285.8,411.4 286.6,415.2 287.3,419 288.1,422.8 289,428 289.8,433.1 290.5,434.8 291.2,436.6 292,438.3 292.7,440 293.6,440.6 294.4,442.9 295.2,444.3 296.1,445.1 296.9,445 297.6,446.5 298.4,446.5 299.2,447.2 299.9,446.7 300.7,447.4 301.4,447.4 302.1,447.6 302.9,448.6 303.6,448.3 304.3,448.1 305,448.5 305.8,448.6 306.7,448.5 307.5,448.4 308.4,448.7 309.2,449.4 309.9,449.9 310.6,449.1 311.4,450 312.1,449 312.8,449.1 313.6,449.4 314.3,449 315,449.4 315.8,449.3 316.5,450.2 317.3,450.1 318,450.1 318.8,449.9 319.5,450.4 320.3,450.5 321,450 321.8,450 322.6,450.1 323.5,449.5" fill="none" stroke="#f40000" stroke-width="2.6" stroke-linejoin="round" stroke-linecap="round"/>
<rect x="366" y="265" width="284" height="1" fill="#2a2a2a"/>
<rect x="366" y="266" width="1" height="229" fill="#151515"/>
<rect x="649" y="266" width="1" height="229" fill="#2a2a2a"/>
<rect x="367" y="490" width="282" height="1" fill="#151515"/>
<text x="366.5" y="504.6" font-family='"Liberation Sans", sans-serif' font-size="8.6" font-weight="normal" text-anchor="middle" fill="#222">570</text>
<line x1="378.3" y1="491" x2="378.3" y2="494" stroke="#222" stroke-width="1"/>
<line x1="390.1" y1="491" x2="390.1" y2="495.5" stroke="#222" stroke-width="1"/>
<text x="390.1" y="504.6" font-family='"Liberation Sans", sans-serif' font-size="8.6" font-weight="normal" text-anchor="middle" fill="#222">572</text>
<line x1="401.9" y1="491" x2="401.9" y2="494" stroke="#222" stroke-width="1"/>
<line x1="413.7" y1="491" x2="413.7" y2="495.5" stroke="#222" stroke-width="1"/>
<text x="413.7" y="504.6" font-family='"Liberation Sans", sans-serif' font-size="8.6" font-weight="normal" text-anchor="middle" fill="#222">574</text>
<line x1="425.5" y1="491" x2="425.5" y2="494" stroke="#222" stroke-width="1"/>
<line x1="437.2" y1="491" x2="437.2" y2="495.5" stroke="#222" stroke-width="1"/>
<text x="437.2" y="504.6" font-family='"Liberation Sans", sans-serif' font-size="8.6" font-weight="normal" text-anchor="middle" fill="#222">576</text>
<line x1="449" y1="491" x2="449" y2="494" stroke="#222" stroke-width="1"/>
<line x1="460.8" y1="491" x2="460.8" y2="495.5" stroke="#222" stroke-width="1"/>
<text x="460.8" y="504.6" font-family='"Liberation Sans", sans-serif' font-size="8.6" font-weight="normal" text-anchor="middle" fill="#222">578</text>
<line x1="472.6" y1="491" x2="472.6" y2="494" stroke="#222" stroke-width="1"/>
<line x1="484.4" y1="491" x2="484.4" y2="495.5" stroke="#222" stroke-width="1"/>
<text x="484.4" y="504.6" font-family='"Liberation Sans", sans-serif' font-size="8.6" font-weight="normal" text-anchor="middle" fill="#222">580</text>
<line x1="496.2" y1="491" x2="496.2" y2="494" stroke="#222" stroke-width="1"/>
<line x1="508" y1="491" x2="508" y2="495.5" stroke="#222" stroke-width="1"/>
<text x="508" y="504.6" font-family='"Liberation Sans", sans-serif' font-size="8.6" font-weight="normal" text-anchor="middle" fill="#222">582</text>
<line x1="519.8" y1="491" x2="519.8" y2="494" stroke="#222" stroke-width="1"/>
<line x1="531.6" y1="491" x2="531.6" y2="495.5" stroke="#222" stroke-width="1"/>
<text x="531.6" y="504.6" font-family='"Liberation Sans", sans-serif' font-size="8.6" font-weight="normal" text-anchor="middle" fill="#222">584</text>
<line x1="543.4" y1="491" x2="543.4" y2="494" stroke="#222" stroke-width="1"/>
<line x1="555.2" y1="491" x2="555.2" y2="495.5" stroke="#222" stroke-width="1"/>
<text x="555.2" y="504.6" font-family='"Liberation Sans", sans-serif' font-size="8.6" font-weight="normal" text-anchor="middle" fill="#222">586</text>
<line x1="567" y1="491" x2="567" y2="494" stroke="#222" stroke-width="1"/>
<line x1="578.8" y1="491" x2="578.8" y2="495.5" stroke="#222" stroke-width="1"/>
<text x="578.8" y="504.6" font-family='"Liberation Sans", sans-serif' font-size="8.6" font-weight="normal" text-anchor="middle" fill="#222">588</text>
<line x1="590.5" y1="491" x2="590.5" y2="494" stroke="#222" stroke-width="1"/>
<line x1="602.3" y1="491" x2="602.3" y2="495.5" stroke="#222" stroke-width="1"/>
<text x="602.3" y="504.6" font-family='"Liberation Sans", sans-serif' font-size="8.6" font-weight="normal" text-anchor="middle" fill="#222">590</text>
<line x1="614.1" y1="491" x2="614.1" y2="494" stroke="#222" stroke-width="1"/>
<line x1="625.9" y1="491" x2="625.9" y2="495.5" stroke="#222" stroke-width="1"/>
<text x="625.9" y="504.6" font-family='"Liberation Sans", sans-serif' font-size="8.6" font-weight="normal" text-anchor="middle" fill="#222">592</text>
<line x1="637.7" y1="491" x2="637.7" y2="494" stroke="#222" stroke-width="1"/>
<text x="649.5" y="504.6" font-family='"Liberation Sans", sans-serif' font-size="8.6" font-weight="normal" text-anchor="middle" fill="#222">594</text>
<text x="508.3" y="522.7" font-family='"Liberation Sans", sans-serif' font-size="11" font-weight="normal" text-anchor="middle" fill="#222">Binding Energy (eV)</text>
<text x="346" y="378.5" font-family='"Liberation Sans", sans-serif' font-size="11" font-weight="normal" text-anchor="middle" fill="#222" transform="rotate(-90 346 378.5)">Intensity (a.u.)</text>
<text x="390.5" y="300.2" font-family='"Liberation Sans", sans-serif' font-size="13.5" font-weight="bold" text-anchor="start" fill="#111">(d)</text>
<text x="533.2" y="284.8" font-family='"Liberation Serif", serif' font-size="10.9" font-weight="bold" text-anchor="start" fill="#111">Cr 2p<tspan font-size="6.6" dy="4">1/2</tspan></text>
<text x="427.6" y="334.1" font-family='"Liberation Serif", serif' font-size="10.9" font-weight="bold" text-anchor="start" fill="#111">Cr 2p<tspan font-size="6.6" dy="4">3/2</tspan></text>
<polyline points="366.9,465.6 367.4,465 368,465.5 368.5,465.1 369.1,465.2 369.6,465 370.2,464.5 370.7,464.1 371.3,464.8 371.8,464.2 372.3,463.6 372.9,463.7 373.4,463.3 374,463 374.5,463 375,462.7 375.5,462.5 376,461.3 376.5,461.2 377,460.5 377.5,459.1 378,458.2 378.5,457 379.1,455.6 379.6,454.5 380.2,454 380.8,453.9 381.4,453.8 382,454 382.5,454.3 383,453.9 383.5,453.5 384,454.2 384.5,454.2 385,453.6 385.5,453.6 386,452.3 386.5,451.5 387,450.4 387.5,449.8 388,449 388.5,447.8 389.1,447.2 389.6,446.4 390.2,445.9 390.7,445.1 391.2,444.9 391.8,444.3 392.3,443.4 392.9,442.9 393.4,442.4 393.9,441.8 394.5,441.2 395,440.8 395.5,440 396.1,439.9 396.6,440.3 397.1,439.1 397.6,439.2 398.1,439 398.7,438.9 399.2,438.2 399.7,436.9 400.2,435.9 400.8,434.9 401.3,434 401.8,433.1 402.4,432.3 402.9,432 403.4,431.1 404,430 404.5,429.6 405.1,428.1 405.6,427.4 406.1,427.1 406.6,427 407.2,426.8 407.7,426.1 408.2,425.9 408.8,425 409.3,425 409.9,425.3 410.4,424.5 410.9,423.3 411.4,421.8 411.9,420.4 412.4,418.1 412.9,416.8 413.4,415.7 413.9,415.1 414.5,414.8 415,414.3 415.5,413.4 416,413.5 416.6,413 417.1,412.6 417.6,412.4 418.2,411.7 418.7,411.5 419.3,410.7 419.8,410.8 420.3,409.4 420.8,407.1 421.4,406.1 421.9,404.1 422.4,402.3 422.9,400.2 423.4,398.1 423.9,396.4 424.4,394.8 424.9,392.8 425.5,388 426.3,386.5 426.8,386.4 427.4,385.6 427.9,385.3 428.5,385.5 429,385.2 429.5,384.8 430,384 430.6,383.4 431.1,383.2 431.6,382.6 432.2,381.4 432.7,381.1 433.3,380.6 433.9,380.4 434.4,379.4 435,378.6 435.5,378.7 436,378 436.6,377.5 437.1,377.2 437.6,377.2 438.2,376.8 438.7,375.6 439.3,374.4 439.9,373.2 440.4,372.8 441,371.9 441.6,370.1 442.3,367.9 442.8,365.8 443.3,363.7 443.8,362.1 444.3,359.9 444.9,359.9 445.4,358.8 445.9,358.2 446.5,358.3 447.1,358.5 447.7,358.9 448.3,359.5 448.9,359.7 449.4,360 450,361.2 450.5,361.7 451.1,362 451.6,362.6 452.1,363.3 452.6,365.1 453.1,365.4 453.6,366.6 454.1,367.7 454.7,367.8 455.2,368.5 455.8,369.8 456.3,370.3 456.9,370.4 457.4,371.3 458,371.1 458.5,371.1 459.1,371.4 459.6,371.9 460.2,372.2 460.7,372.7 461.2,373.3 461.8,372.9 462.3,373.5 462.9,373.9 463.4,374.3 464,375.7 464.5,375.5 465.1,376.1 465.6,377.2 466.2,377.2 466.7,378 467.2,378.9 467.8,379.4 468.3,379.7 468.9,379.9 469.4,380.3 470,380.1 470.5,379.4 471.1,379.1 471.6,379.8 472.2,379.2 472.7,380.3 473.2,380.4 473.7,381.9 474.2,382.6 474.7,383.5 475.2,384.4 475.7,385.4 476.2,386.5 476.7,387 477.2,387.7 477.7,388.8 478.2,389.9 478.9,391.8 479.5,393.9 480,395.1 480.6,394.9 481.1,396.5 481.7,396.4 482.2,397.4 482.7,397 483.2,397.1 483.8,396.8 484.3,396.1 484.8,395.9 485.3,395.1 485.8,395.2 486.3,394.8 486.8,395 487.3,393.9 487.8,393.7 488.3,393.9 488.8,393.2 489.3,392.8 489.8,393.3 490.3,393.8 490.8,393.8 491.3,393.2 491.8,393.3 492.3,393.4 492.8,393.9 493.4,394.4 493.9,393.8 494.4,394.3 495,394.1 495.5,394.7 496,394.4 496.5,394.5 497,395.4 497.5,395.2 498.1,394.7 498.7,393.8 499.3,393.4 499.8,393.8 500.4,393.6 500.9,393.7 501.4,393.6 501.9,394.5 502.4,394.9 503,394.8 503.5,394.8 504,394.8 504.5,393.5 505,393.3 505.6,393.2 506.1,393.3 506.6,392.9 507.1,392 507.6,390.6 508.1,389.3 508.7,388.2 509.2,387 509.8,385.6 510.3,384.6 510.8,382.4 511.4,381.3 511.9,380.9 512.4,380.1 512.9,379.5 513.4,378.7 513.9,377.8 514.4,376.8 514.9,376.3 515.4,375.5 515.9,374.9 516.4,374.7 517,373.4 517.5,372.9 518,372.9 518.5,372 519,370.1 519.5,368.4 520.1,366.7 520.6,365.6 521.1,365.2 521.6,364.4 522.1,364.6 522.7,364 523.2,363.6 523.7,362.4 524.2,362.1 524.7,360.4 525.2,359.2 525.8,358.3 526.3,357.1 526.8,356.5 527.3,355.4 527.8,354.4 528.4,353.8 528.9,353.1 529.4,352.4 529.9,351.4 530.4,349.8 531,348.1 531.5,346.2 532,344.2 532.5,342.7 533.1,342.3 533.6,340.6 534.1,339.8 534.6,338.4 535.2,337.7 535.7,336.3 536.3,334.6 536.9,333.3 537.4,332 538,330.5 538.6,329.5 539.2,328 539.7,325.9 540.3,323.8 540.8,322 541.4,320.3 542,318.9 542.5,316.5 543.1,314.6 543.7,311.5 544.3,308.9 544.9,307.5 545.4,305.7 546,303.8 546.6,303.7 547.1,302.3 547.7,302.1 548.2,301.9 548.8,301 549.4,300.5 550,299.7 550.5,297.9 551.1,297.5 551.7,297.1 552.2,296.7 552.8,296.5 553.4,296.6 554,297.3 554.5,297 555.1,297.6 555.6,297.2 556.2,297.5 556.8,298.3 557.4,298.4 557.9,298.6 558.5,299.6 559.1,299.8 559.7,300.6 560.2,300.2 560.8,301 561.4,301.5 561.9,301.4 562.5,302.1 563.1,303.5 563.6,304.8 564.2,306.7 564.8,307.5 565.4,308.7 565.9,310.2 566.5,311.2 567.1,313.7 567.6,315.5 568.2,318.1 568.8,319.5 569.3,321.7 569.9,323.8 570.5,325.7 571,326.9 571.6,328.9 572.2,329.2 572.8,329.5 573.3,330.6 573.9,330.8 574.5,331.2 575.1,331.2 575.6,331.7 576.2,332.5 576.7,333.1 577.3,333.5 577.9,334.1 578.5,333.9 579,334.4 579.6,335.2 580.2,336.9 580.7,338.1 581.3,339.7 581.8,341 582.4,342.6 583,344.7 583.5,345.8 584,346.6 584.5,347.9 585,348.7 585.5,349.7 586,351.2 586.5,351.8 587.1,354.3 587.7,355.7 588.3,357.9 589,360 589.6,362.8 590.2,364.1 590.8,364.6 591.4,365.5 592,367 592.6,368.4 593.2,368.9 593.8,370 594.3,370 594.9,369.2 595.4,369.4 595.9,368.6 596.4,367.9 597,367.5 597.5,367.6 598,368.4 598.5,369.2 599,370.2 599.5,370.1 600,371.3 600.5,371.9 601,371.9 601.5,372.1 602,371.8 602.6,372 603.1,372.3 603.6,372.8 604.1,372.5 604.6,372.5 605.1,373.3 605.7,374 606.2,374.6 606.7,374.2 607.2,374.9 607.8,375.9 608.4,378.1 609,379.5 609.6,380.4 610.1,380.9 610.6,381 611.1,382.3 611.6,382.3 612.1,383.3 612.6,383.4 613.2,382.9 613.8,382.5 614.4,381.3 615,381 615.5,380.6 616,379.3 616.5,378.8 617.1,378.5 617.6,377.7 618.1,376.7 618.6,376.8 619.1,377.3 619.6,377.8 620.1,378.4 620.6,378.7 621.1,379.2 621.6,378.8 622.2,378.9 622.7,379.4 623.2,379.6 623.7,378.7 624.3,379.3 624.8,379.2 625.3,379.1 625.8,378 626.3,378.5 626.9,377.4 627.4,377.5 627.9,377.1 628.4,376.7 628.9,376.3 629.4,375.5 629.9,375.1 630.4,374.8 630.9,374.1 631.4,373.7 631.9,373.2 632.4,372.4 633,371.8 633.5,370.8 634,370.7 634.5,370 635,370.7 635.5,371.2 636,372.4 636.5,373.1 637,373.5 637.5,374.3 638,374.5 638.5,375.3 639,375.4 639.5,375.9 640,376.7 640.5,377.3 641,376.5 641.5,376.5 642,376.2 642.5,375.4 643,375.5 643.6,373.7 644.2,371.1 644.8,369.8 645.4,367.6 646,365 646.6,361.9 647.2,359.1 647.8,355.9 648.4,353.5" fill="none" stroke="#0000ff" stroke-width="3.6" stroke-linejoin="round" stroke-linecap="round"/>
</svg>
</body></html>
